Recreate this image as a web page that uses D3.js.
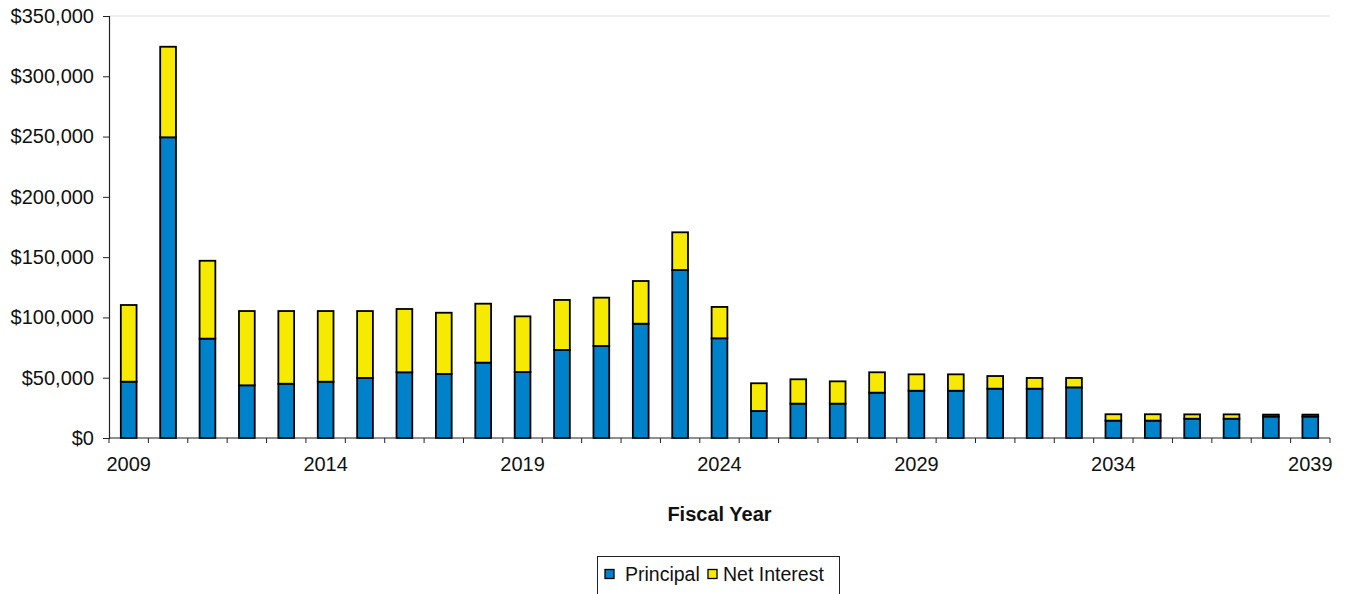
<!DOCTYPE html>
<html>
<head>
<meta charset="utf-8">
<script src="https://cdn.jsdelivr.net/npm/d3@7"></script>
<style>
  html, body { margin: 0; padding: 0; background: #fff; }
  svg { display: block; font-family: "Liberation Sans", Arial, sans-serif; }
</style>
</head>
<body>
<svg id="chart" width="1345" height="594"></svg>
<script>
// Fiscal years on the category axis
const years = d3.range(2009, 2040);

// Principal payment per year ($)
const principal = [
  46700, 249400, 82400, 43700, 45000, 46700, 49800, 54500, 53100, 62500,
  54700, 73000, 76300, 94800, 139300, 82700, 22400, 28500, 28500, 37600,
  39200, 39200, 40900, 40900, 42000, 14400, 14400, 16000, 16000, 17800, 17800
];

// Net interest payment per year ($)
const netInterest = [
  63600, 75100, 64600, 61600, 60300, 58600, 55500, 52500, 50800, 48900,
  46200, 41500, 40100, 35400, 31300, 26000, 23000, 20200, 18500, 16900,
  13600, 13600, 10500, 8900, 7800, 5300, 5300, 3600, 3600, 1600, 1600
];

// Axis labelling
const yTicks = [0, 50000, 100000, 150000, 200000, 250000, 300000, 350000];
const labelledYears = [2009, 2014, 2019, 2024, 2029, 2034, 2039];
const seriesNames = ["Principal", "Net Interest"];
const colors = ["#0082CA", "#F5EA00"];

const svg = d3.select("#chart");
const plotLeft = 109, plotRight = 1330, plotTop = 16, plotBottom = 438;

const x = d3.scaleBand()
  .domain(years)
  .range([plotLeft, plotRight])
  .paddingInner(0.6)
  .paddingOuter(0.3);

const y = d3.scaleLinear()
  .domain([0, 350000])
  .range([plotBottom, plotTop]);

// faint top gridline
svg.append("line")
  .attr("x1", plotLeft).attr("x2", plotRight)
  .attr("y1", y(350000)).attr("y2", y(350000))
  .attr("stroke", "#e2e2e2").attr("stroke-width", 1.2);

// stacked bars
const rows = years.map((yr, i) => ({ year: yr, Principal: principal[i], "Net Interest": netInterest[i] }));
const stack = d3.stack().keys(seriesNames)(rows);

svg.append("g").selectAll("g")
  .data(stack)
  .join("g")
  .attr("fill", (d, i) => colors[i])
  .selectAll("rect")
  .data(d => d)
  .join("rect")
  .attr("x", d => x(d.data.year))
  .attr("width", x.bandwidth())
  .attr("y", d => y(d[1]))
  .attr("height", d => y(d[0]) - y(d[1]))
  .attr("stroke", "#000")
  .attr("stroke-width", 1.8);

// y axis
const yAxis = d3.axisLeft(y)
  .tickValues(yTicks)
  .tickSize(6)
  .tickPadding(9)
  .tickFormat(d => "$" + d3.format(",")(d));

const yg = svg.append("g")
  .attr("transform", `translate(${plotLeft},0)`)
  .call(yAxis);
yg.select(".domain").attr("stroke", "#222").attr("stroke-width", 1.2);
yg.selectAll(".tick line").attr("stroke", "#222");
yg.selectAll(".tick text")
  .attr("font-size", 20)
  .attr("fill", "#111")
  .attr("font-family", "Liberation Sans, Arial, sans-serif");

// x axis: baseline with ticks on category boundaries
const step = x.step();
const boundaries = years.map(yr => x(yr) + x.bandwidth() / 2 - step / 2).concat([plotRight]);

const xg = svg.append("g");
xg.append("line")
  .attr("x1", plotLeft).attr("x2", plotRight)
  .attr("y1", plotBottom).attr("y2", plotBottom)
  .attr("stroke", "#222").attr("stroke-width", 1.2);
xg.selectAll("line.tick")
  .data(boundaries)
  .join("line")
  .attr("class", "tick")
  .attr("x1", d => d).attr("x2", d => d)
  .attr("y1", plotBottom).attr("y2", plotBottom + 5)
  .attr("stroke", "#222");
xg.selectAll("text")
  .data(labelledYears)
  .join("text")
  .attr("x", d => x(d) + x.bandwidth() / 2)
  .attr("y", 471)
  .attr("text-anchor", "middle")
  .attr("font-size", 20)
  .attr("fill", "#111")
  .text(d => d);

// axis title
svg.append("text")
  .attr("x", (plotLeft + plotRight) / 2)
  .attr("y", 521)
  .attr("text-anchor", "middle")
  .attr("font-size", 20)
  .attr("font-weight", "bold")
  .attr("fill", "#111")
  .text("Fiscal Year");

// legend
const lg = svg.append("g");
lg.append("rect")
  .attr("x", 597.5).attr("y", 556.5)
  .attr("width", 242).attr("height", 50)
  .attr("fill", "#fff").attr("stroke", "#222").attr("stroke-width", 1);

const legendItems = [
  { name: seriesNames[0], color: colors[0], sx: 605, tx: 625 },
  { name: seriesNames[1], color: colors[1], sx: 708, tx: 723 }
];
legendItems.forEach(it => {
  lg.append("rect")
    .attr("x", it.sx).attr("y", 569.5)
    .attr("width", 9).attr("height", 9)
    .attr("fill", it.color).attr("stroke", "#000").attr("stroke-width", 1.3);
  lg.append("text")
    .attr("x", it.tx).attr("y", 581)
    .attr("font-size", 19.5)
    .attr("fill", "#111")
    .text(it.name);
});
</script>
</body>
</html>
